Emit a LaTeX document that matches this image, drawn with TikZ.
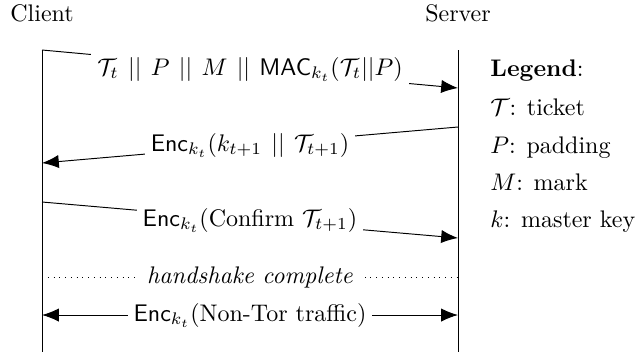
\documentclass[tikz,border=0pt]{standalone}
\usetikzlibrary{arrows.meta}
\newcommand{\cat}{\mathbin{\,||\,}}
\begin{document}
\begin{tikzpicture}[x=0.4167pt, y=-0.4167pt, line join=round, >={Latex[length=7pt,width=5.5pt]},
		msg/.style={fill=white, inner sep=2.5pt}]
			\useasboundingbox (0,0) rectangle (637,353);
			\node[anchor=base] (client) at (42,21) {Client};
			\node[anchor=base] (server) at (458,21) {Server};
			\coordinate (ctop) at (42,50); \coordinate (cbot) at (42,352);
			\coordinate (stop) at (458,50); \coordinate (sbot) at (458,352);
			\draw (ctop) -- (cbot);
			\draw (stop) -- (sbot);
			% messages
			\coordinate (c1) at (42,50);  \coordinate (s1) at (458,88);
			\coordinate (s2) at (458,127); \coordinate (c2) at (42,163);
			\coordinate (c3) at (42,202); \coordinate (s3) at (458,238);
			\coordinate (c4) at (42,277); \coordinate (s4) at (458,277);
			\coordinate (c5) at (42,315); \coordinate (s5) at (458,315);
			\draw[->] (c1) -- node[msg] (m1) {$\mathcal{T}_t \cat P \cat M \cat \mathsf{MAC}_{k_t}(\mathcal{T}_t||P)$} (s1);
			\draw[->] (s2) -- node[msg] (m2) {$\mathsf{Enc}_{k_t}(k_{t+1} \cat \mathcal{T}_{t+1})$} (c2);
			\draw[->] (c3) -- node[msg] (m3) {$\mathsf{Enc}_{k_t}($Confirm $\mathcal{T}_{t+1})$} (s3);
			\draw[dotted] (c4) -- node[msg, inner sep=5pt] (hs) {\textit{handshake complete}} (s4);
			\draw[<->] (c5) -- node[msg] (m5) {$\mathsf{Enc}_{k_t}($Non-Tor traffic$)$} (s5);
			% legend
			\node[anchor=base west, inner sep=0pt] (legend) at (490,76) {\textbf{Legend}:};
			\foreach \y/\t [count=\i] in {115/{$\mathcal{T}$: ticket}, 153/{$P$: padding}, 190/{$M$: mark}, 227/{$k$: master key}}
				\node[anchor=base west, inner sep=0pt] (leg\i) at (490,\y) {\t};
		\end{tikzpicture}
\end{document}
